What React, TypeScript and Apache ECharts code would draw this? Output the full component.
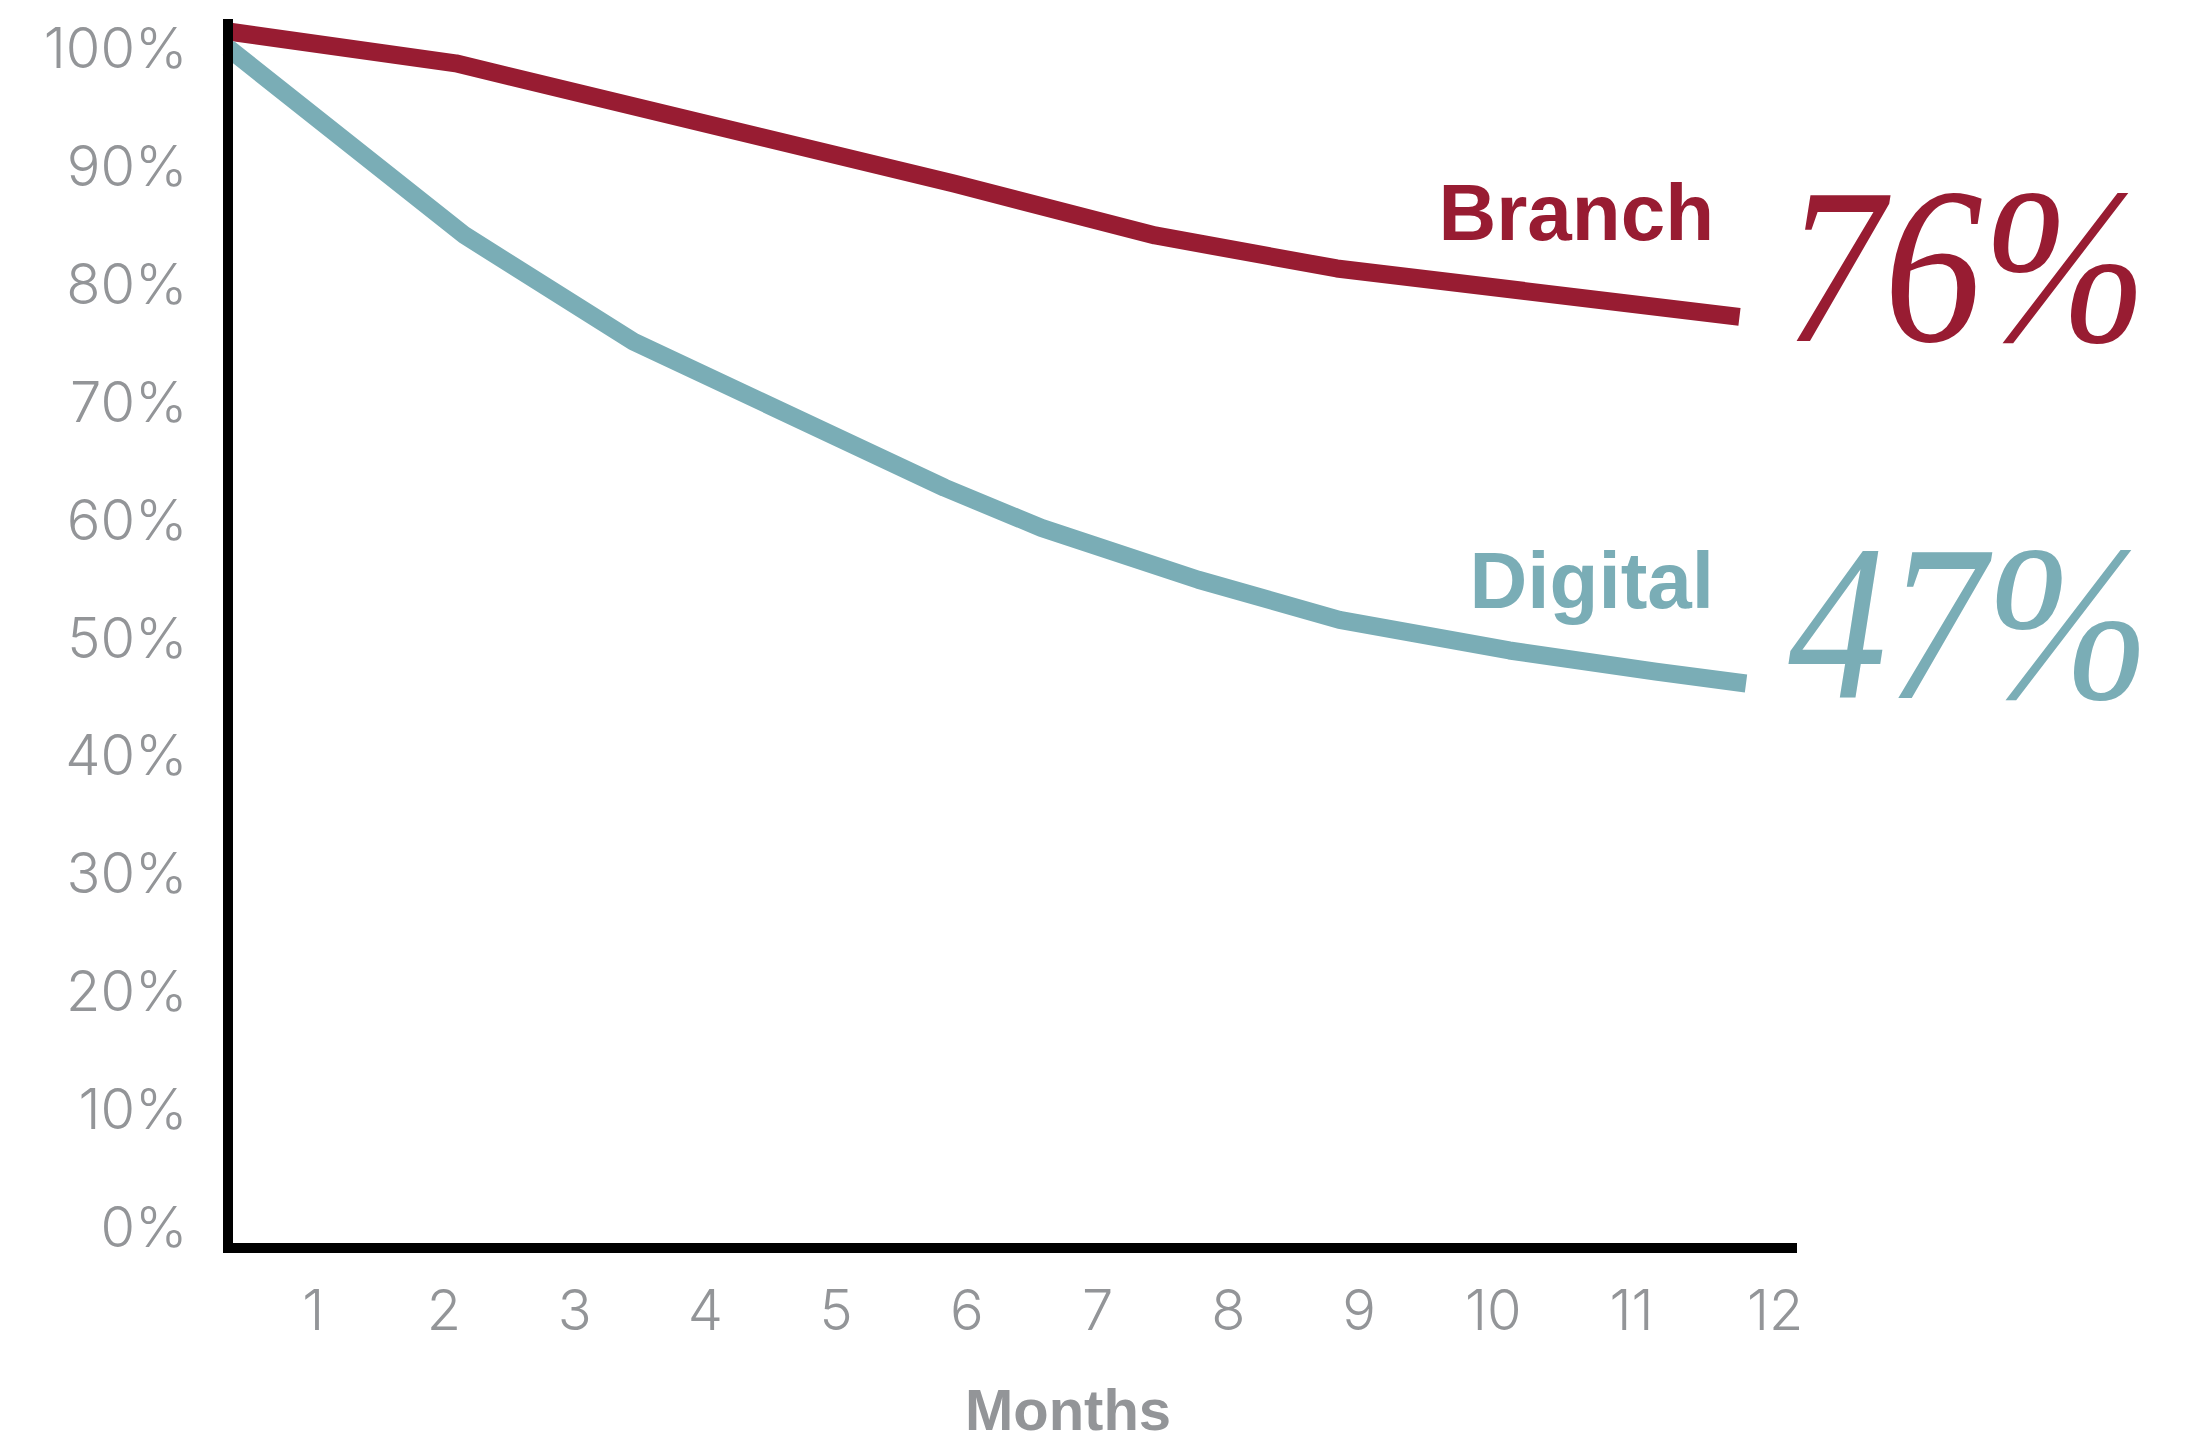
import React, { useEffect, useRef } from "react";
import * as echarts from "echarts";

const BRANCH = "#981c32";
const DIGITAL = "#7aadb6";
const GRAY = "#939598";

const monthTicks = [1, 2, 3, 4, 5, 6, 7, 8, 9, 10, 11, 12];
const yTicks = [0, 10, 20, 30, 40, 50, 60, 70, 80, 90, 100];

const branchMonths = [0.35, 2.09, 5.9, 7.44, 8.83, 11.91];
const branchRetention = [101.4, 98.7, 88.5, 84.1, 81.3, 77.2];

const digitalMonths = [0.35, 2.16, 3.45, 5.83, 6.57, 7.77, 8.85, 10.15, 11.27, 11.96];
const digitalRetention = [100.0, 84.1, 75.1, 62.7, 59.3, 54.9, 51.5, 48.9, 47.1, 46.1];

const seriesNames = ["Branch", "Digital"];
const finalLabels = ["76%", "47%"];
const xTitle = "Months";

const TICK_FONT = "Inter, 'Liberation Sans', sans-serif";
const BOLD_FONT = "'Liberation Sans', Arial, sans-serif";
const SERIF_FONT = "'Liberation Serif', 'Times New Roman', serif";

export default function App() {
  const ref = useRef<HTMLDivElement>(null);

  useEffect(() => {
    if (!ref.current) return;
    const chart = echarts.init(ref.current, undefined, { renderer: "svg" });

    const labelShift: Record<number, number> = { 10: 7, 11: 22, 12: 48 };
    const rich: any = {};
    monthTicks.forEach((m) => {
      rich["m" + m] = {
        color: GRAY,
        fontSize: 56,
        fontWeight: 300,
        fontFamily: TICK_FONT,
        padding: [0, 0, 0, labelShift[m] || 0],
      };
    });

    const option: any = {
      animation: false,
      backgroundColor: "#ffffff",
      grid: [
        { left: 182.5, top: 48, width: 1614.5, height: 1179, containLabel: false },
        { left: 228, top: 24, width: 1564, height: 1224, containLabel: false },
      ],
      xAxis: [
        {
          type: "value",
          gridIndex: 0,
          min: 0,
          max: 12.35,
          interval: 1,
          axisLine: { show: false },
          axisTick: { show: false },
          splitLine: { show: false },
          axisLabel: {
            margin: 55,
            color: GRAY,
            fontSize: 56,
            fontWeight: 300,
            fontFamily: TICK_FONT,
            formatter: (v: number) =>
              monthTicks.indexOf(v) >= 0 ? `{m${v}|${v}}` : "",
            rich,
          },
        },
        {
          type: "value",
          gridIndex: 1,
          min: 0,
          max: 1,
          z: 5,
          axisLine: {
            show: true,
            onZero: false,
            lineStyle: { color: "#000", width: 10, cap: "square" },
          },
          axisTick: { show: false },
          splitLine: { show: false },
          axisLabel: { show: false },
        },
      ],
      yAxis: [
        {
          type: "value",
          gridIndex: 0,
          min: 0,
          max: 100,
          interval: 10,
          axisLine: { show: false },
          axisTick: { show: false },
          splitLine: { show: false },
          axisLabel: {
            margin: -5,
            color: GRAY,
            fontSize: 56,
            fontWeight: 300,
            fontFamily: TICK_FONT,
            formatter: (v: number) => (yTicks.indexOf(v) >= 0 ? `${v}%` : ""),
          },
        },
        {
          type: "value",
          gridIndex: 1,
          min: 0,
          max: 1,
          z: 5,
          axisLine: {
            show: true,
            onZero: false,
            lineStyle: { color: "#000", width: 10, cap: "square" },
          },
          axisTick: { show: false },
          splitLine: { show: false },
          axisLabel: { show: false },
        },
      ],
      series: [
        {
          name: seriesNames[0],
          type: "line",
          xAxisIndex: 0,
          yAxisIndex: 0,
          data: branchMonths.map((m, i) => [m, branchRetention[i]]),
          symbol: "none",
          showSymbol: false,
          clip: false,
          z: 2,
          lineStyle: { color: BRANCH, width: 18, cap: "butt", join: "round" },
        },
        {
          name: seriesNames[1],
          type: "line",
          xAxisIndex: 0,
          yAxisIndex: 0,
          data: digitalMonths.map((m, i) => [m, digitalRetention[i]]),
          symbol: "none",
          showSymbol: false,
          clip: false,
          z: 2,
          lineStyle: { color: DIGITAL, width: 18, cap: "butt", join: "round" },
        },
      ],
      graphic: [
        {
          type: "text",
          x: 1714,
          y: 212,
          style: {
            text: seriesNames[0],
            fill: BRANCH,
            fontSize: 80,
            fontWeight: "bold",
            fontFamily: BOLD_FONT,
            textAlign: "right",
            textVerticalAlign: "middle",
            align: "right",
            verticalAlign: "middle",
          },
        },
        {
          type: "text",
          x: 1714,
          y: 580,
          style: {
            text: seriesNames[1],
            fill: DIGITAL,
            fontSize: 80,
            fontWeight: "bold",
            fontFamily: BOLD_FONT,
            textAlign: "right",
            textVerticalAlign: "middle",
            align: "right",
            verticalAlign: "middle",
          },
        },
        {
          type: "text",
          x: 1785,
          y: 266,
          scaleX: 0.89,
          style: {
            text: finalLabels[0],
            fill: BRANCH,
            fontSize: 222,
            fontStyle: "italic",
            fontFamily: SERIF_FONT,
            textAlign: "left",
            textVerticalAlign: "middle",
            align: "left",
            verticalAlign: "middle",
          },
        },
        {
          type: "text",
          x: 1788,
          y: 623,
          scaleX: 0.89,
          style: {
            text: finalLabels[1],
            fill: DIGITAL,
            fontSize: 222,
            fontStyle: "italic",
            fontFamily: SERIF_FONT,
            textAlign: "left",
            textVerticalAlign: "middle",
            align: "left",
            verticalAlign: "middle",
          },
        },
        {
          type: "text",
          x: 1068,
          y: 1409,
          style: {
            text: xTitle,
            fill: GRAY,
            fontSize: 58,
            fontWeight: "bold",
            fontFamily: BOLD_FONT,
            textAlign: "center",
            textVerticalAlign: "middle",
            align: "center",
            verticalAlign: "middle",
          },
        },
      ],
    };

    chart.setOption(option);
    return () => chart.dispose();
  }, []);

  return (
    <div
      ref={ref}
      style={{ position: "fixed", left: 0, top: 0, width: 2203, height: 1441, background: "#fff" }}
    />
  );
}
